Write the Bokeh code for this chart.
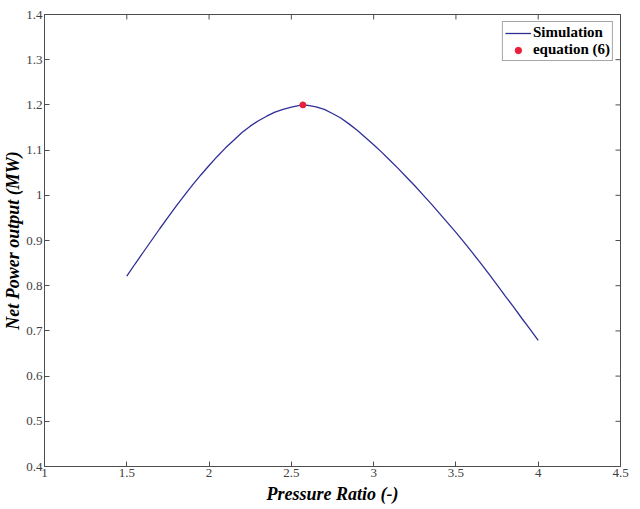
import math
from bokeh.plotting import figure
from bokeh.models import FixedTicker, CustomJSTickFormatter, Range1d, Legend, LegendItem
from bokeh.embed import file_html
from bokeh.resources import INLINE

pressure_ratio = [1.50, 1.55, 1.60, 1.65, 1.70, 1.75, 1.80, 1.85, 1.90, 1.95, 2.00, 2.05,
                  2.10, 2.15, 2.20, 2.25, 2.30, 2.35, 2.40, 2.45, 2.50, 2.55, 2.57, 2.60,
                  2.65, 2.70, 2.75, 2.80, 2.85, 2.90, 2.95, 3.00, 3.05, 3.10, 3.15, 3.20,
                  3.25, 3.30, 3.35, 3.40, 3.45, 3.50, 3.55, 3.60, 3.65, 3.70, 3.75, 3.80,
                  3.85, 3.90, 3.95, 4.00]
net_power = [0.821, 0.848, 0.874, 0.900, 0.926, 0.951, 0.976, 1.000, 1.023, 1.045, 1.066, 1.086,
             1.105, 1.122, 1.139, 1.153, 1.165, 1.175, 1.184, 1.190, 1.195, 1.199, 1.200, 1.199,
             1.1955, 1.190, 1.181, 1.171, 1.158, 1.144, 1.128, 1.112, 1.095, 1.077, 1.059, 1.040,
             1.021, 1.001, 0.981, 0.960, 0.939, 0.918, 0.896, 0.873, 0.850, 0.826, 0.802, 0.777,
             0.753, 0.728, 0.704, 0.679]
eq_x = [2.57]
eq_y = [1.2]
x_ticks = [1, 1.5, 2, 2.5, 3, 3.5, 4, 4.5]
y_ticks = [0.4, 0.5, 0.6, 0.7, 0.8, 0.9, 1.0, 1.1, 1.2, 1.3, 1.4]
x_min, x_max = 1, 4.5
y_min, y_max = 0.4, 1.4

FONT = "Liberation Serif"
AX = "#4d4d4d"

p = figure(frame_width=576, frame_height=452, output_backend="svg", toolbar_location=None,
           x_range=Range1d(x_min, x_max), y_range=Range1d(y_min, y_max),
           min_border_left=37, min_border_right=11, min_border_top=14, min_border_bottom=30)
p.xgrid.visible = False
p.ygrid.visible = False
p.outline_line_color = AX
p.background_fill_color = "white"

fmt = CustomJSTickFormatter(code="return String(Math.round(tick*10)/10)")

for ax in (p.xaxis[0], p.yaxis[0]):
    ax.axis_line_color = AX
    ax.major_tick_line_color = AX
    ax.major_tick_in = 5
    ax.major_tick_out = 0
    ax.minor_tick_line_color = None
    ax.major_label_text_font = FONT
    ax.major_label_text_font_size = "13px"
    ax.major_label_text_color = "#404040"
    ax.major_label_standoff = 2
    ax.axis_label_text_font = FONT
    ax.axis_label_text_font_size = "18px"
    ax.axis_label_text_font_style = "bold italic"
    ax.axis_label_text_color = "black"
    ax.axis_label_standoff = 1

p.xaxis.ticker = FixedTicker(ticks=x_ticks)
p.yaxis.ticker = FixedTicker(ticks=y_ticks)
p.xaxis.formatter = fmt
p.yaxis.formatter = fmt
p.xaxis.axis_label = "Pressure Ratio (-)"
p.yaxis.axis_label = "Net Power output (MW)"
p.xaxis.axis_label_standoff = 4
p.yaxis.axis_label_standoff = 0

# inward ticks on the top and right edges of the box (clipped to the frame)
p.scatter(x_ticks, [y_max] * len(x_ticks), marker="dash", angle=math.pi / 2, size=10,
          line_color=AX, line_width=1)
p.scatter([x_max] * len(y_ticks), y_ticks, marker="dash", size=10,
          line_color=AX, line_width=1)

line = p.line(pressure_ratio, net_power, line_color="#2f2f96", line_width=1.3)
dot = p.scatter(eq_x, eq_y, size=6, fill_color="#e8203c", line_color="#e8203c")

legend = Legend(items=[LegendItem(label="Simulation", renderers=[line]),
                       LegendItem(label="equation (6)", renderers=[dot])],
                location="top_right")
legend.label_text_font = FONT
legend.label_text_font_size = "15px"
legend.label_text_font_style = "bold"
legend.label_text_color = "black"
legend.border_line_color = AX
legend.border_line_width = 1
legend.padding = 2
legend.spacing = 0
legend.margin = 7
legend.glyph_width = 26
legend.glyph_height = 16
legend.label_standoff = 2
legend.label_height = 16
p.add_layout(legend, "center")

open("out.html", "w").write(file_html(p, INLINE))
